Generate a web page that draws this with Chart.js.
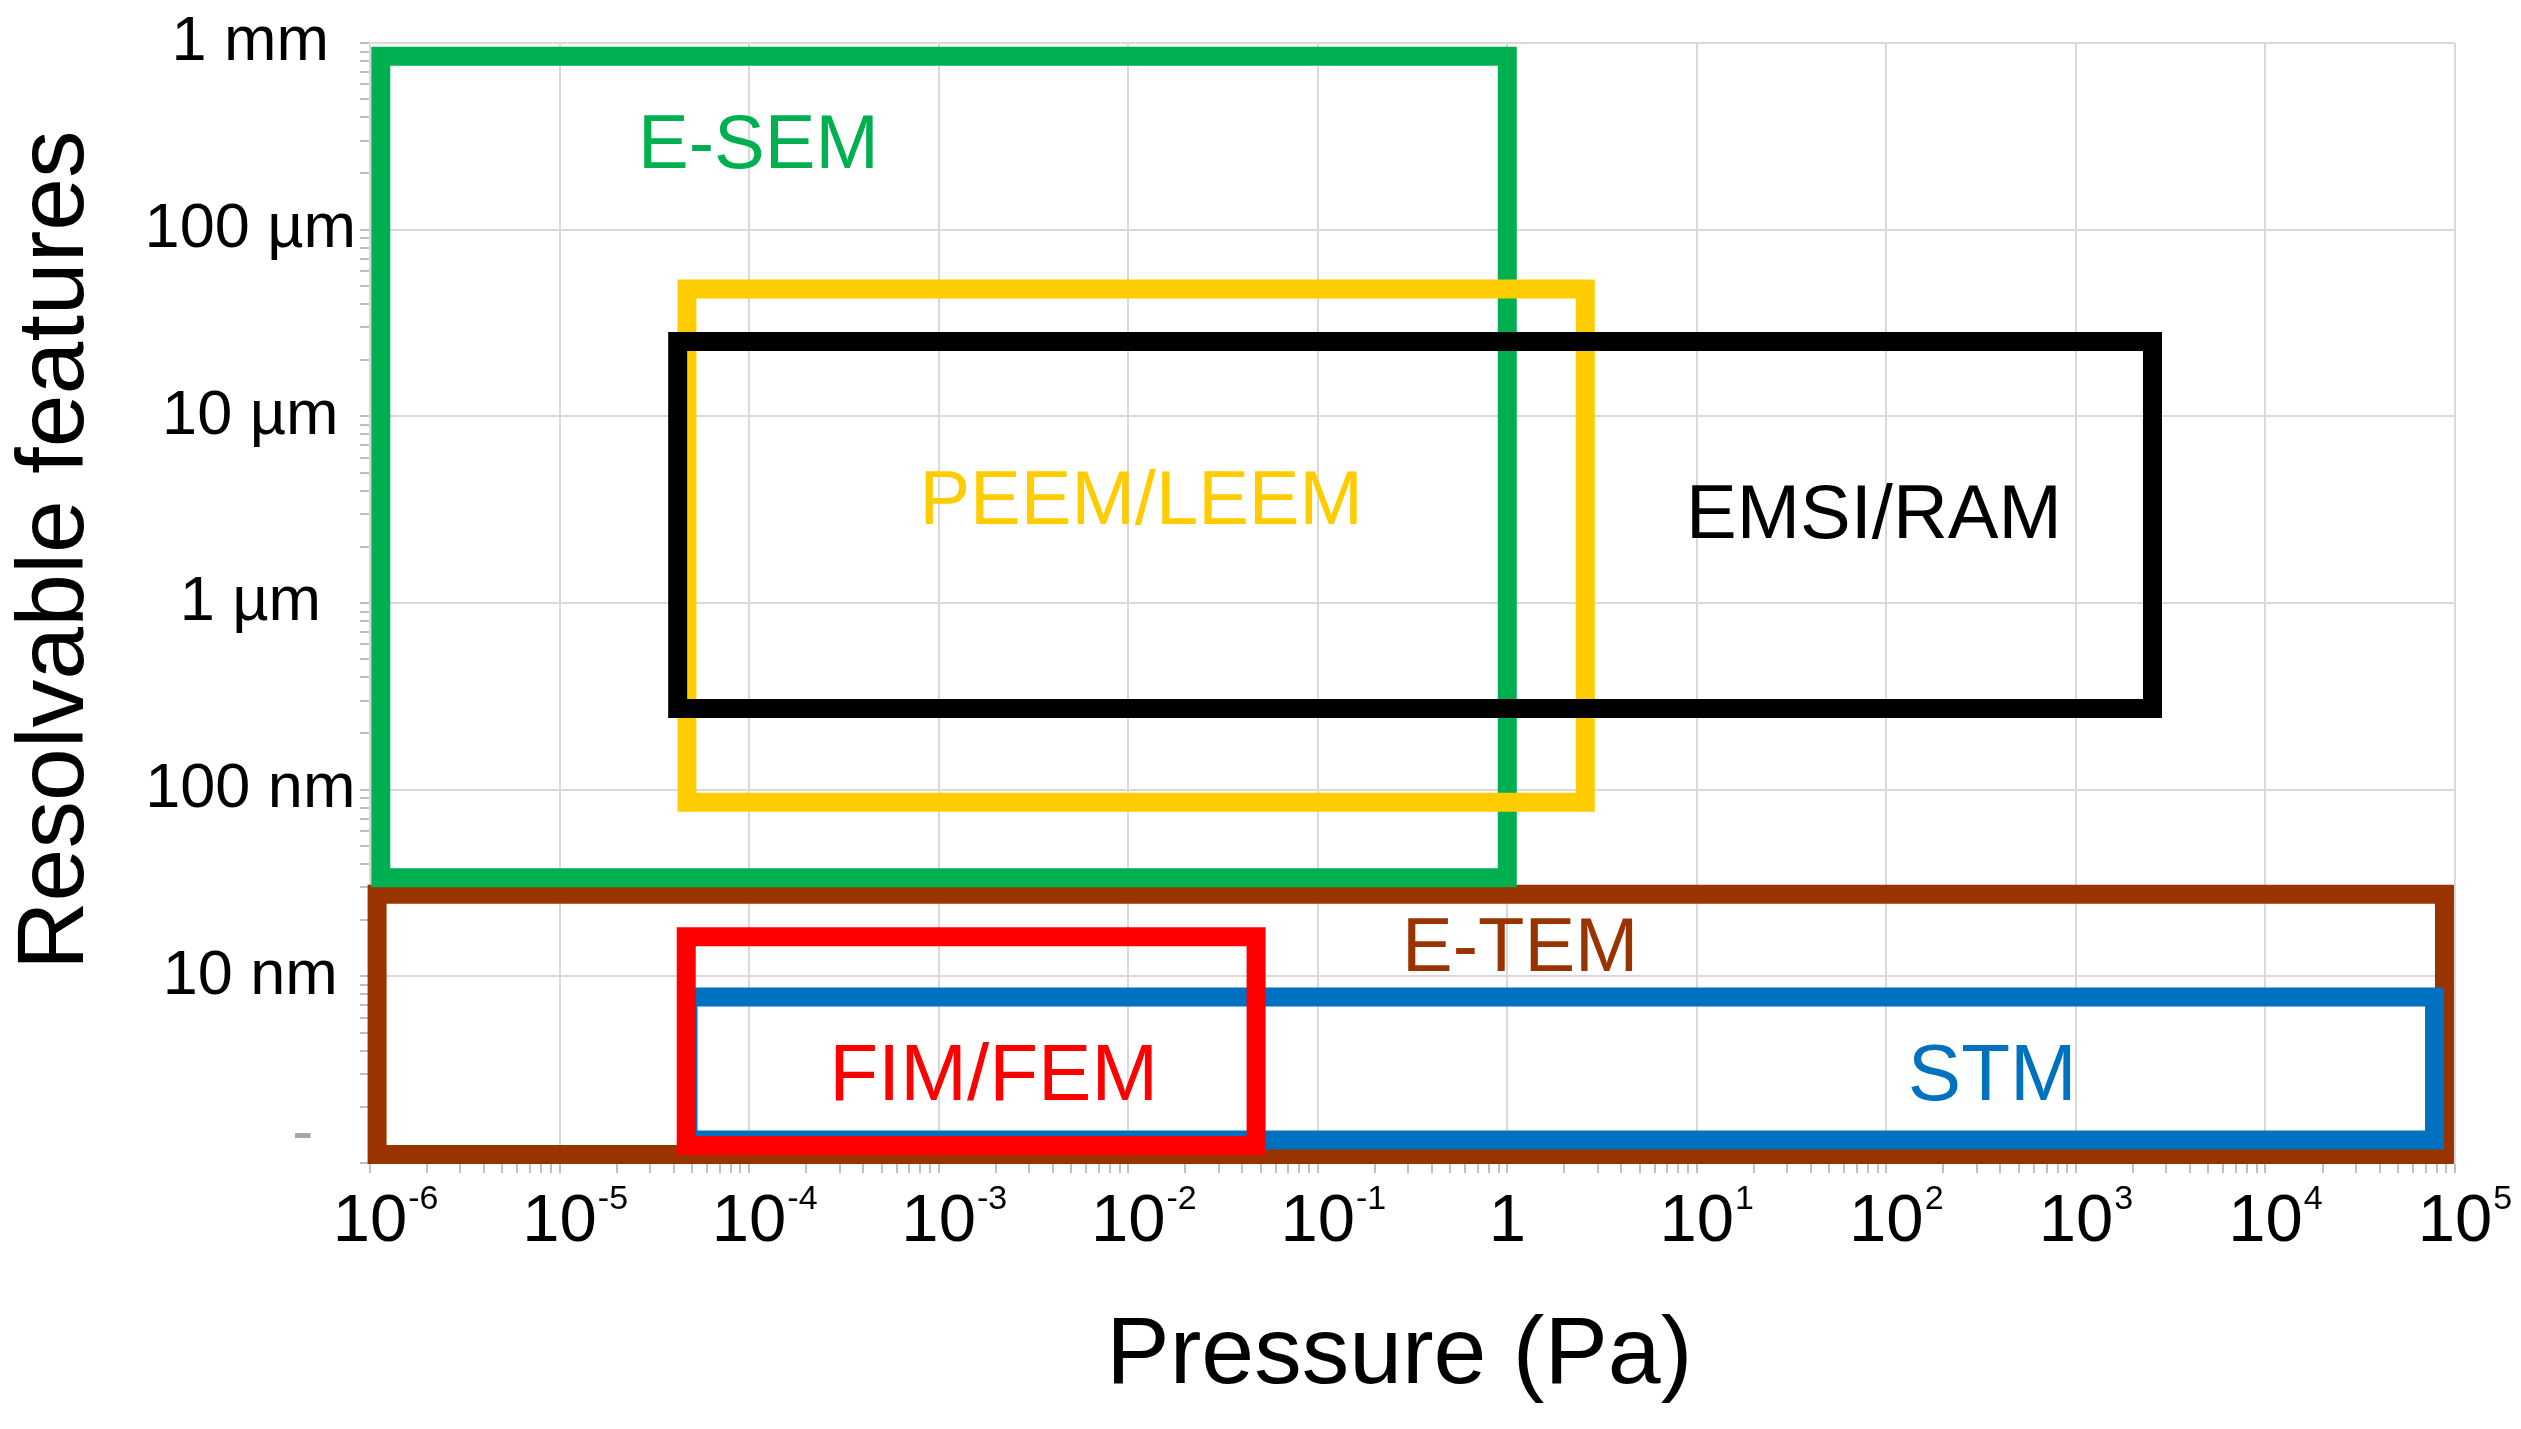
<!DOCTYPE html>
<html>
<head>
<meta charset="utf-8">
<title>Resolvable features vs pressure</title>
<script src="https://cdn.jsdelivr.net/npm/chart.js@4.4.1/dist/chart.umd.min.js"></script>
<style>
  html, body { margin: 0; padding: 0; background: #fff; }
  #wrap { width: 2521px; height: 1429px; }
</style>
</head>
<body>
<div id="wrap"><canvas id="chart"></canvas></div>
<script>
// techniques, listed top-most first (first one is drawn last)
const techniques = ['EMSI/RAM', 'PEEM/LEEM', 'E-SEM', 'FIM/FEM', 'STM', 'E-TEM'];

// pressure range of each box (Pa)
const pressureLow  = [4.2e-5, 4.7e-5, 1.14e-6, 4.66e-5, 4.76e-5, 1.09e-6];
const pressureHigh = [2535, 2.58, 1.0, 0.0473, 7.8e4, 8.8e4];

// resolvable feature range of each box (nm)
const featureLow  = [272, 85.5, 33.7, 1.24, 1.33, 1.11];
const featureHigh = [2.52e4, 4.81e4, 8.5e5, 16.3, 7.76, 27.5];

// where each technique name sits (Pa, nm)
const namePressure = [86, 0.0117, 1.12e-4, 1.95e-3, 362, 1.17];
const nameFeature  = [2900, 3440, 2.77e5, 2.85, 2.85, 13.9];

const boxColors = ['#000000', '#ffcc00', '#00b050', '#ff0000', '#0070c0', '#993300'];
const nameSizes = [76, 76, 76, 80, 80, 76];

// axis ticks
const xDecades = [1e-6, 1e-5, 1e-4, 1e-3, 1e-2, 1e-1, 1, 1e1, 1e2, 1e3, 1e4, 1e5];
const xTickBase = ['10', '10', '10', '10', '10', '10', '1', '10', '10', '10', '10', '10'];
const xTickSup  = ['-6', '-5', '-4', '-3', '-2', '-1', '', '1', '2', '3', '4', '5'];

const yDecades = [1, 10, 100, 1e3, 1e4, 1e5, 1e6];
const yTickLabels = ['      -', '10 nm', '100 nm', '1 µm', '10 µm', '100 µm', '1 mm'];

const minorSteps = [2, 3, 4, 5, 6, 7, 8, 9];

const FONT = '"Liberation Sans", Arial, Helvetica, sans-serif';
Chart.defaults.font.family = FONT;
Chart.defaults.color = '#000';

function withMinors(decades) {
  const out = [];
  decades.forEach((d, i) => {
    out.push({ value: d, major: true });
    if (i < decades.length - 1) minorSteps.forEach(m => out.push({ value: m * d, major: false }));
  });
  return out;
}

function isDecade(v) {
  if (!v) return false;
  const l = Math.log10(v);
  return Math.abs(l - Math.round(l)) < 1e-9;
}

const gridColor = ctx => (ctx.tick && isDecade(ctx.tick.value)) ? '#d9d9d9' : 'rgba(0,0,0,0)';

const datasets = techniques.map((name, i) => ({
  label: name,
  data: [
    { x: pressureLow[i], y: featureLow[i] },
    { x: pressureHigh[i], y: featureLow[i] },
    { x: pressureHigh[i], y: featureHigh[i] },
    { x: pressureLow[i], y: featureHigh[i] },
    { x: pressureLow[i], y: featureLow[i] }
  ],
  showLine: true,
  borderColor: boxColors[i],
  backgroundColor: boxColors[i],
  borderWidth: 19,
  borderJoinStyle: 'miter',
  borderCapStyle: 'square',
  pointRadius: 0,
  pointHoverRadius: 0,
  fill: false,
  tension: 0,
  clip: false
}));

// technique names inside the boxes
const namesPlugin = {
  id: 'names',
  afterDatasetsDraw(chart) {
    const { ctx, scales: { x, y } } = chart;
    ctx.save();
    ctx.textAlign = 'center';
    ctx.textBaseline = 'middle';
    techniques.forEach((name, i) => {
      ctx.font = nameSizes[i] + 'px ' + FONT;
      ctx.fillStyle = boxColors[i];
      ctx.fillText(name, x.getPixelForValue(namePressure[i]), y.getPixelForValue(nameFeature[i]));
    });
    ctx.restore();
  }
};

// 10^n labels with superscripts under the pressure axis
const pressureLabels = {
  id: 'pressureLabels',
  afterDraw(chart) {
    const { ctx, chartArea, scales: { x } } = chart;
    ctx.save();
    ctx.fillStyle = '#000';
    ctx.textBaseline = 'alphabetic';
    xDecades.forEach((v, i) => {
      const px = x.getPixelForValue(v);
      ctx.font = '67px ' + FONT;
      ctx.textAlign = 'center';
      ctx.fillText(xTickBase[i], px, chartArea.bottom + 78);
      if (xTickSup[i]) {
        const w = ctx.measureText(xTickBase[i]).width;
        ctx.font = '34px ' + FONT;
        ctx.textAlign = 'left';
        ctx.fillText(xTickSup[i], px + w / 2 + 1, chartArea.bottom + 46);
      }
    });
    ctx.restore();
  }
};

new Chart(document.getElementById('chart'), {
  type: 'scatter',
  data: { datasets },
  plugins: [namesPlugin, pressureLabels],
  options: {
    responsive: true,
    maintainAspectRatio: false,
    animation: false,
    layout: { padding: { top: 43, right: 66, bottom: 0, left: 0 } },
    plugins: {
      legend: { display: false },
      tooltip: { enabled: false }
    },
    scales: {
      x: {
        type: 'logarithmic',
        min: 1e-6,
        max: 1e5,
        afterBuildTicks: scale => { scale.ticks = withMinors(xDecades); },
        afterFit: scale => { scale.height = 266; },
        ticks: { autoSkip: false, maxRotation: 0, callback: () => '' },
        grid: { color: gridColor, tickColor: '#bfbfbf', lineWidth: 2, tickLength: 10 },
        border: { color: '#d9d9d9', width: 2 },
        title: {
          display: true,
          text: 'Pressure (Pa) ',
          color: '#000',
          font: { size: 95 },
          padding: { top: 0, bottom: 15 }
        }
      },
      y: {
        type: 'logarithmic',
        min: 1,
        max: 1e6,
        afterBuildTicks: scale => { scale.ticks = withMinors(yDecades); },
        afterFit: scale => { scale.width = 370; },
        ticks: {
          autoSkip: false,
          padding: 4,
          crossAlign: 'center',
          font: { size: 63, lineHeight: 0.9 },
          color: ctx => (ctx.tick && ctx.tick.value === 1) ? '#a6a6a6' : '#000',
          callback: value => {
            const i = yDecades.findIndex(d => Math.abs(d - value) < 1e-9 * d);
            if (i < 0) return '';
            return i === 0 ? [yTickLabels[i], ''] : yTickLabels[i];
          }
        },
        grid: { color: gridColor, tickColor: '#bfbfbf', lineWidth: 2, tickLength: 10 },
        border: { color: '#d9d9d9', width: 2 },
        title: {
          display: true,
          text: '    Resolvable features',
          color: '#000',
          font: { size: 95 },
          padding: { top: 0, bottom: 0 }
        }
      }
    }
  }
});
</script>
</body>
</html>
